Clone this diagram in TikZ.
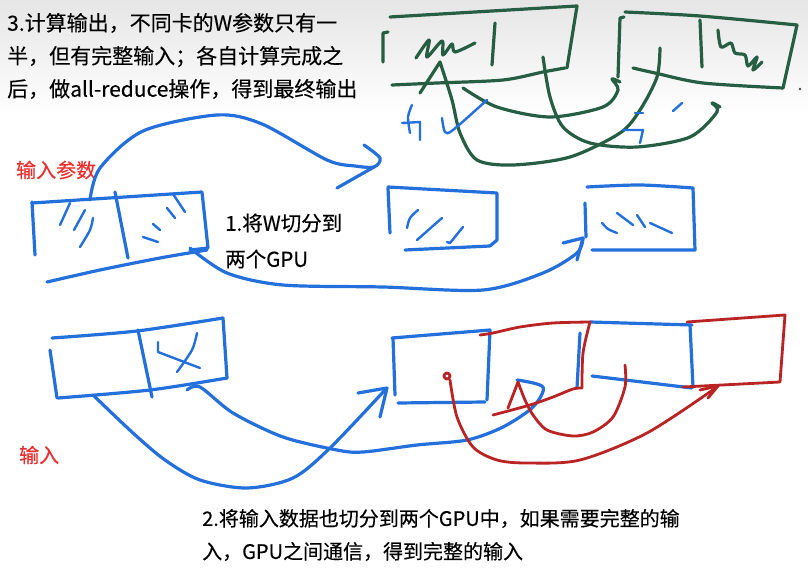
\documentclass[tikz,border=0pt]{standalone}
\usepackage{fontspec}
\newfontfamily\cjk[FakeBold=0.25]{Noto Sans CJK SC}
\definecolor{inkblue}{RGB}{35,112,220}
\definecolor{inkgreen}{RGB}{38,94,68}
\definecolor{inkred}{RGB}{185,35,35}
\definecolor{tagred}{RGB}{235,45,45}
\tikzset{
  inkline/.style={line width=3.2pt, line cap=round, line join=round},
  bluepen/.style={inkline, draw=inkblue},
  greenpen/.style={inkline, draw=inkgreen},
  redpen/.style={inkline, line width=2.8pt, draw=inkred},
  note/.style={font=\cjk\fontsize{21}{33}\selectfont, align=left, inner sep=0pt, anchor=west},
  tag/.style={note, font=\cjk\fontsize{20}{24}\selectfont, text=tagred},
}
\begin{document}
\begin{tikzpicture}[x=1pt,y=-1pt]
		\useasboundingbox (0,0) rectangle (808,572);
		\fill[white] (0,0) rectangle (808,572);
		\shade[top color=black!10, bottom color=white] (0,0) rectangle (808,115);
		
		% Texts
		\node[note] (step3) at (7,56) {3.计算输出，不同卡的W参数只有一\\半，但有完整输入；各自计算完成之\\后，做all-reduce操作，得到最终输出};
		\node[note, font=\cjk\fontsize{20.5}{36}\selectfont] (step1) at (225,241) {1.将W切分到\\两个GPU};
		\node[note, font=\cjk\fontsize{20}{33}\selectfont] (step2) at (202,535) {2.将输入数据也切分到两个GPU中，如果需要完整的输\\入，GPU之间通信，得到完整的输入};
		\node[tag] (params) at (16,170) {输入参数};
		\node[tag] (inputs) at (19,455) {输入};
		
		% Green boxes: output on each card
		\draw[greenpen] (390,17) -- (577,6) -- (567,68);
		\draw[greenpen] plot[smooth] coordinates {(565,68) (543,72) (503,80) (437,83) (392,85)};
		\draw[greenpen] (388,32) -- (383,33) -- (383,62);
		\draw[greenpen] (495,23) -- (492,65);
		\draw[greenpen] plot[smooth] coordinates {(416,58) (429,40) (427,57) (442,41) (443,55) (452,44) (455,52) (475,43)};
		\draw[greenpen] plot[smooth] coordinates {(625,12) (700,16) (797,25)};
		\draw[greenpen] (797,25) -- (783,88);
		\draw[greenpen] plot[smooth] coordinates {(783,88) (703,83) (655,73) (633,68)};
		\draw[greenpen] (624,17) -- (620,18) -- (618,77);
		\draw[greenpen] (700,20) -- (702,67);
		\draw[greenpen] plot[smooth] coordinates {(718,30) (721,47) (731,43) (735,53) (745,55) (748,66) (757,57) (753,70) (762,62)};
		
		% Green all-reduce curves
		\draw[greenpen] plot[smooth] coordinates {(660,48) (657,77) (640,110) (620,133) (570,157) (513,165) (477,160) (460,133) (452,100) (440,62)} -- (420,93);
		\draw[greenpen] plot[smooth] coordinates {(543,57) (550,97) (563,127) (590,143) (637,147) (690,137) (717,112) (712,103) (720,107)};
		\draw[greenpen] plot[smooth] coordinates {(463,88) (497,107) (550,117) (603,107) (618,90) (612,79) (620,82)};
		
		% Blue marks under the green boxes
		\draw[bluepen, line width=2.4pt] (402,123) -- (420,122) -- (420,140);
		\draw[bluepen, line width=2.4pt] plot[smooth] coordinates {(412,105) (408,117) (410,133)};
		\draw[bluepen, line width=2.4pt] plot[smooth] coordinates {(442,118) (445,132) (453,130) (487,100)};
		\draw[bluepen, line width=2.4pt] (635,113) -- (643,113);
		\draw[bluepen, line width=2.4pt] (623,130) -- (643,130) -- (640,143);
		\draw[bluepen, line width=2.4pt] (673,111) -- (682,103);
		\fill[black!70] (800,89) circle (1.3);
		
		% Parameter W split in two halves
		\draw[bluepen] (32,202) -- (35,255);
		\draw[bluepen] (32,203) -- (202,192) -- (208,248) -- (190,250);
		\draw[bluepen] plot[smooth] coordinates {(47,282) (100,270) (160,258) (207,250)};
		\draw[bluepen] (115,192) -- (128,258);
		\draw[bluepen, line width=2.4pt] (70,203) -- (60,225);
		\draw[bluepen, line width=2.4pt] (85,210) -- (74,230);
		\draw[bluepen, line width=2.4pt] plot[smooth] coordinates {(93,218) (90,230) (80,247)};
		\draw[bluepen, line width=2.4pt] (173,194) -- (185,212);
		\draw[bluepen, line width=2.4pt] (167,208) -- (175,218);
		\draw[bluepen, line width=2.4pt] (153,224) -- (160,230);
		\draw[bluepen, line width=2.4pt] (143,237) -- (158,242);
		
		% Arrows to the two GPUs
		\draw[bluepen] plot[smooth] coordinates {(90,200) (100,168) (143,131) (217,115) (262,124) (327,160) (355,166) (374,167) (380,158) (364,145)};
		\draw[bluepen] (374,167) -- (337,188);
		\draw[bluepen] plot[smooth] coordinates {(190,248) (227,273) (283,285) (383,287) (483,290) (543,273) (577,253) (583,238)};
		\draw[bluepen] (563,243) -- (583,238) -- (577,260);
		
		% First GPU half of W
		\draw[bluepen] (388,188) -- (390,233);
		\draw[bluepen] (388,187) -- (497,193) -- (497,240) -- (490,246);
		\draw[bluepen] (405,250) -- (490,246);
		\draw[bluepen, line width=2.4pt] plot[smooth] coordinates {(418,210) (410,218) (407,228)};
		\draw[bluepen, line width=2.4pt] (442,218) -- (417,240);
		\draw[bluepen, line width=2.4pt] (463,227) -- (450,243) -- (447,242);
		
		% Second GPU half of W
		\draw[bluepen] (585,203) -- (586,237);
		\draw[bluepen] plot[smooth] coordinates {(587,187) (640,185) (693,188)};
		\draw[bluepen] (693,188) -- (695,250) -- (592,250);
		\draw[bluepen, line width=2.4pt] plot[smooth] coordinates {(602,223) (608,229) (617,233)};
		\draw[bluepen, line width=2.4pt] (617,213) -- (633,225);
		\draw[bluepen, line width=2.4pt] (637,215) -- (645,227);
		\draw[bluepen, line width=2.4pt] (650,223) -- (672,233);
		
		% Input X split in two halves
		\draw[bluepen] plot[smooth] coordinates {(52,338) (137,331) (223,318)};
		\draw[bluepen] (50,350) -- (57,398);
		\draw[bluepen] plot[smooth] coordinates {(58,398) (150,390) (227,378)};
		\draw[bluepen] (223,318) -- (227,378);
		\draw[bluepen] (138,330) -- (152,397);
		\draw[bluepen, line width=2.4pt] (158,342) -- (158,352) -- (200,368);
		\draw[bluepen, line width=2.4pt] plot[smooth] coordinates {(197,333) (192,350) (177,372)};
		
		% Arrows from the input
		\draw[bluepen] plot[smooth] coordinates {(93,395) (133,433) (165,460) (200,480) (247,488) (293,478) (330,448) (385,390)};
		\draw[bluepen] (358,393) -- (387,388) -- (380,417);
		\draw[bluepen] plot[smooth] coordinates {(187,390) (200,387) (233,413) (283,437) (337,450) (363,452) (417,445) (467,440) (503,427) (533,407) (543,387) (517,380)};
		
		% Input halves on the GPUs
		\draw[bluepen] (392,338) -- (490,330) -- (487,400);
		\draw[bluepen] (393,338) -- (395,395);
		\draw[bluepen] (398,403) -- (485,402);
		\draw[bluepen] (590,322) -- (692,325);
		\draw[bluepen] (580,333) -- (577,388);
		\draw[bluepen] (690,325) -- (693,387);
		\draw[bluepen] (592,376) -- (692,388);
		
		% Red: halves gathered into a full input
		\draw[redpen] plot[smooth] coordinates {(480,335) (493,333) (520,327) (553,323) (590,322)};
		\draw[redpen] plot[smooth] coordinates {(590,322) (583,353) (582,388)};
		\draw[redpen] plot[smooth] coordinates {(582,388) (573,389) (553,397) (530,405) (493,415)};
		\draw[redpen] (687,322) -- (785,315) -- (780,382) -- (683,387);
		\draw[redpen] (447,376) circle (3);
		\draw[redpen] plot[smooth] coordinates {(450,380) (457,417) (473,447) (497,460) (527,463) (580,460) (647,433) (717,387)};
		\draw[redpen] (700,390) -- (718,386) -- (708,398);
		\draw[redpen] plot[smooth] coordinates {(625,365) (625,387) (613,417) (593,432) (573,436) (547,430) (533,415) (525,400) (518,382)};
		\draw[redpen] (508,408) -- (518,382);
		
	\end{tikzpicture}
\end{document}
